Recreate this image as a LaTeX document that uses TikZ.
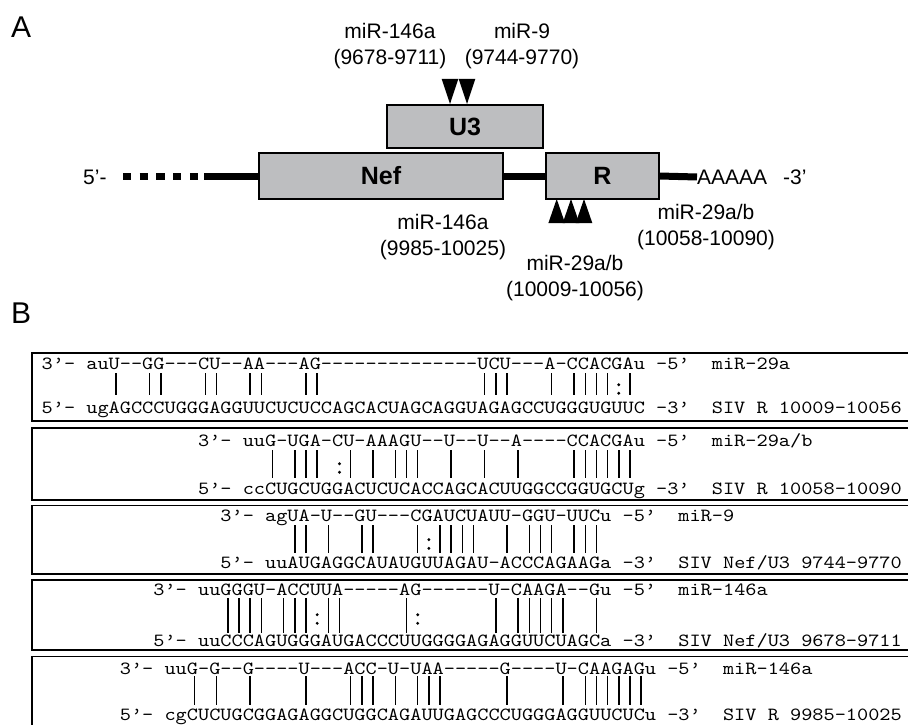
\documentclass[tikz,border=0pt]{standalone}
\usepackage{fontspec}
\setmainfont{Liberation Sans}
\newfontfamily\seqfont{lmmono10-regular.otf}[FakeStretch=1.144]
\usepackage{tikz}
\definecolor{boxgray}{RGB}{189,190,192}
\newcommand{\pw}{11.17}
\newcommand{\xt}{41.5}
\newcommand{\xb}{43.5}
\tikzset{
  seg/.style={draw=black,line width=1.2pt,fill=boxgray,minimum height=46pt,inner sep=0pt,font=\fontsize{25}{30}\selectfont\bfseries},
  lbl/.style={font=\fontsize{21}{26}\selectfont,align=center,inner sep=0pt},
  tag/.style={font=\fontsize{30}{36}\selectfont,anchor=base west,inner sep=0pt},
  bb/.style={line width=7pt},
  sq/.style={font=\fontsize{18.6}{20}\seqfont,anchor=base west,inner sep=0pt},
  pr/.style={line width=1.5pt},
  panel/.style={draw,line width=1.6pt},
}
% #1 id, #2 col, #3/#4 baselines, #5/#6 strands, #7 label col, #8/#9 labels
\newcommand{\duplex}[9]{%
  \node[sq] (mi#1) at ({\xt+#2*\pw},#3) {3’- #5 -5’};
  \node[sq] (siv#1) at ({\xt+#2*\pw},#4) {5’- #6 -3’};
  \node[sq] (mn#1) at ({\xt+#7*\pw},#3) {#8};
  \node[sq] (sn#1) at ({\xt+#7*\pw},#4) {#9};
}
\newcommand{\pairs}[4]{\foreach \i in {#4} \draw[pr] ({\xb+(#1+\i+.5)*\pw},#2) -- ({\xb+(#1+\i+.5)*\pw},#3);}
\newcommand{\wobble}[3]{\foreach \i in {#3} \fill ({\xb+(#1+\i+.5)*\pw},{#2-4.3}) circle (1.6pt) ({\xb+(#1+\i+.5)*\pw},{#2+4.3}) circle (1.6pt);}

\begin{document}
\begin{tikzpicture}[x=1pt,y=-1pt]
  \useasboundingbox (0,0) rectangle (908,725);
  \clip (0,0) rectangle (908,725);
  \node[tag] (tagA) at (11,38) {A};
  \node[tag] (tagB) at (11,323) {B};

  \node[seg,minimum width=244pt] (nef) at (381,176) {Nef};
  \node[seg,minimum width=156pt,minimum height=43pt] (u3) at (465,126.5) {U3};
  \node[seg,minimum width=113pt] (r) at (602.5,176) {R};
  \node[lbl,anchor=west] (five) at (83,177) {5’-};
  \node[lbl,anchor=west] (polyA) at (697,177) {AAAAA};
  \node[lbl,anchor=west] (three) at (783,177) {-3’};
  \coordinate (dots0) at (123,176);
  \coordinate (dots1) at (198.3,176);
  \coordinate (lead) at (204,176);
  \draw[bb,dash pattern=on 8.3pt off 8.4pt] (dots0) -- (dots1);
  \draw[bb] (lead) -- (nef.west);
  \draw[bb] (nef.east) -- (r.west);
  \draw[bb] (r.east) -- (polyA.west);
  \foreach \x in {450,467} \fill ({\x-8.3},79) -- ({\x+8.3},79) -- (\x,104) -- cycle;
  \foreach \x in {556.7,571,584} \fill ({\x-8.3},223) -- ({\x+8.3},223) -- (\x,199) -- cycle;
  \node[lbl] (m146u) at (390,46) {miR-146a\\(9678-9711)};
  \node[lbl] (m9) at (522,46) {miR-9\\(9744-9770)};
  \node[lbl] (m146n) at (443,237) {miR-146a\\(9985-10025)};
  \node[lbl] (m29a) at (575,278) {miR-29a/b\\(10009-10056)};
  \node[lbl] (m29b) at (706,227) {miR-29a/b\\(10058-10090)};

  \draw[panel] (32,352.7) rectangle (920,421);
  \draw[panel] (32,428) rectangle (920,500);
  \draw[panel] (32,505.5) rectangle (920,574);
  \draw[panel] (32,580) rectangle (920,650);
  \draw[panel] (32,656.5) rectangle (920,740);

  \duplex{1}{0}{369}{413.5}{auU--GG---CU--AA---AG--------------UCU---A-CCACGAu}{ugAGCCCUGGGAGGUUCUCUCCAGCACUAGCAGGUAGAGCCUGGGUGUUC}{60}{miR-29a}{SIV R 10009-10056}
  \pairs{4}{373}{395}{2,5,6,10,11,14,15,19,20,35,36,37,41,43,44,45,46,48}
  \wobble{4}{389}{47}

  \duplex{2}{14}{446.5}{494.3}{uuG-UGA-CU-AAAGU--U--U--A----CCACGAu}{ccCUGCUGGACUCUCACCAGCACUUGGCCGGUGCUg}{60}{miR-29a/b}{SIV R 10058-10090}
  \pairs{18}{450}{478}{2,4,5,6,9,11,13,14,15,18,21,24,29,30,31,32,33,34}
  \wobble{18}{468}{8}

  \duplex{3}{16}{521.7}{568.3}{agUA-U--GU---CGAUCUAUU-GGU-UUCu}{uuAUGAGGCAUAUGUUAGAU-ACCCAGAAGa}{57}{miR-9}{SIV Nef/U3 9744-9770}
  \pairs{20}{525}{553}{2,3,5,8,9,13,15,16,17,18,21,23,24,25,27,28,29}
  \wobble{20}{544}{14}

  \duplex{4}{10}{595}{646}{uuGGGU-ACCUUA-----AG------U-CAAGA--Gu}{uuCCCAGUGGGAUGACCCUUGGGGAGAGGUUCUAGCa}{57}{miR-146a}{SIV Nef/U3 9678-9711}
  \pairs{14}{598}{633}{2,3,4,5,7,8,9,11,12,18,26,28,29,30,31,32,35}
  \wobble{14}{619}{10,19}

  \duplex{5}{7}{674}{720}{uuG-G--G----U---ACC-U-UAA-----G----U-CAAGAGu}{cgCUCUGCGGAGAGGCUGGCAGAUUGAGCCCUGGGAGGUUCUCu}{61}{miR-146a}{SIV R 9985-10025}
  \pairs{11}{676}{705}{2,4,7,12,16,17,18,20,22,23,24,30,35,37,38,39,40,41,42}
\end{tikzpicture}
\end{document}
